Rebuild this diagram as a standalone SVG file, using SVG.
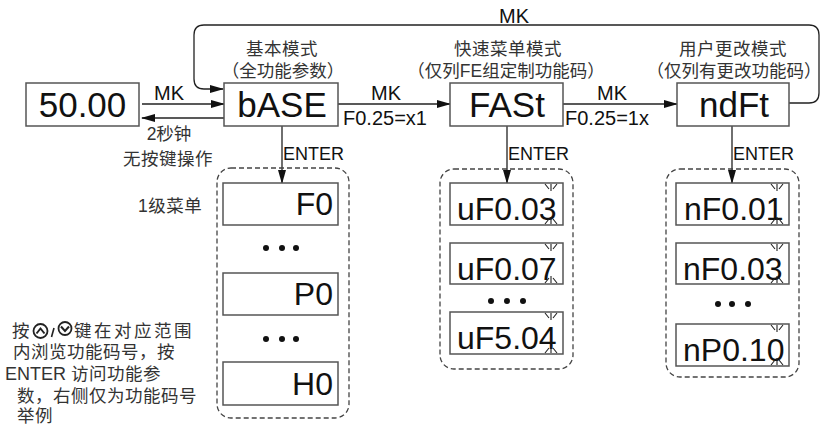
<svg xmlns="http://www.w3.org/2000/svg" width="820" height="426" viewBox="0 0 820 426">
<style>
.box{fill:#fff;stroke:#555;stroke-width:1.5}
.dash{fill:none;stroke:#444;stroke-width:1.3;stroke-dasharray:5 3}
.big{font-family:"Liberation Sans",Arial,sans-serif;font-size:35px;fill:#111}
.mid{font-family:"Liberation Sans",Arial,sans-serif;font-size:32px;fill:#111}
.lbl{font-family:"Liberation Sans",Arial,sans-serif;font-size:20px;fill:#111}
.ent{font-family:"Liberation Sans",Arial,sans-serif;font-size:18px;fill:#111}
.cn{font-family:"Liberation Sans","Noto Sans CJK SC",sans-serif;font-size:17.5px;fill:#333}
.ln{fill:none;stroke:#222;stroke-width:1.3}
.bl{fill:none;stroke:#222;stroke-width:1.1}
.dot{fill:#111}
</style>
<defs>
<marker id="ah" markerWidth="14" markerHeight="10" refX="13" refY="5" orient="auto" markerUnits="userSpaceOnUse">
<path d="M0,1 L14,5 L0,9 Z" fill="#111"/>
</marker>
</defs>

<g id="connectors">
<path class="ln" d="M789,103 H809 Q819,103 819,93 V35 Q819,25 809,25 H204 Q194,25 194,35 V79 Q194,89 204,89 H223" marker-end="url(#ah)"/>
<line class="ln" x1="142" y1="104" x2="224" y2="104" marker-end="url(#ah)"/>
<line class="ln" x1="224" y1="118" x2="142" y2="118" marker-end="url(#ah)"/>
<line class="ln" x1="338" y1="104" x2="450" y2="104" marker-end="url(#ah)"/>
<line class="ln" x1="563" y1="104" x2="677" y2="104" marker-end="url(#ah)"/>
<line class="ln" x1="282" y1="126" x2="282" y2="183" marker-end="url(#ah)"/>
<line class="ln" x1="507" y1="126" x2="507" y2="183" marker-end="url(#ah)"/>
<line class="ln" x1="732" y1="126" x2="732" y2="183" marker-end="url(#ah)"/>
<text class="lbl" x="514" y="23" text-anchor="middle">MK</text>
<text class="lbl" x="169" y="100" text-anchor="middle">MK</text>
<text class="lbl" x="386" y="100" text-anchor="middle">MK</text>
<text class="lbl" x="612" y="100" text-anchor="middle">MK</text>
<text class="lbl" x="343" y="125" font-size="21">F0.25=x1</text>
<text class="lbl" x="565" y="125" font-size="21">F0.25=1x</text>
<text class="cn" x="169" y="140" text-anchor="middle">2秒钟</text>
<text class="cn" x="168" y="165" text-anchor="middle" letter-spacing="0.5">无按键操作</text>
<text class="ent" x="283" y="160">ENTER</text>
<text class="ent" x="508" y="160">ENTER</text>
<text class="ent" x="733" y="160">ENTER</text>
</g>

<g id="display">
<rect class="box" x="26" y="83" width="113" height="43"/>
<text class="big" x="82.5" y="117" text-anchor="middle">50.00</text>
</g>

<g id="base">
<rect class="box" x="224" y="83" width="114" height="43"/>
<text class="big" x="282" y="117" text-anchor="middle">bASE</text>
<text class="cn" x="282" y="55" text-anchor="middle" letter-spacing="0.5">基本模式</text>
<text class="cn" x="283" y="77" text-anchor="middle">（全功能参数）</text>
</g>

<g id="fast">
<rect class="box" x="450" y="83" width="113" height="43"/>
<text class="big" x="507" y="117" text-anchor="middle">FASt</text>
<text class="cn" x="508" y="55" text-anchor="middle" letter-spacing="0.5">快速菜单模式</text>
<text class="cn" x="506" y="77" text-anchor="middle">（仅列FE组定制功能码）</text>
</g>

<g id="ndft">
<rect class="box" x="677" y="83" width="112" height="43"/>
<text class="big" x="734" y="117" text-anchor="middle">ndFt</text>
<text class="cn" x="733" y="55" text-anchor="middle" letter-spacing="0.5">用户更改模式</text>
<text class="cn" x="734" y="77" text-anchor="middle">（仅列有更改功能码）</text>
</g>

<g id="base-menu">
<rect class="dash" x="217" y="168" width="132" height="250" rx="14"/>
<rect class="box" x="223" y="183" width="115" height="42"/>
<text class="mid" x="333" y="215" text-anchor="end" font-size="33">F0</text>
<circle class="dot" cx="266" cy="248" r="3"/>
<circle class="dot" cx="282" cy="248" r="3"/>
<circle class="dot" cx="296" cy="248" r="3"/>
<rect class="box" x="223" y="273" width="115" height="42"/>
<text class="mid" x="333" y="305" text-anchor="end" font-size="33">P0</text>
<circle class="dot" cx="266" cy="339" r="3"/>
<circle class="dot" cx="282" cy="339" r="3"/>
<circle class="dot" cx="296" cy="339" r="3"/>
<rect class="box" x="223" y="362" width="115" height="43"/>
<text class="mid" x="333" y="395" text-anchor="end" font-size="33">H0</text>
</g>

<g id="fast-menu">
<rect class="dash" x="440" y="169" width="133" height="200" rx="14"/>
<rect class="box" x="450" y="183" width="113" height="42"/>
<text class="mid" x="457" y="220">uF0.03</text>
<path class="bl" d="M551,184V191M545,184L549,189M557,184L553,189M551,224V217M545,224L549,219M557,224L553,219"/>
<rect class="box" x="450" y="243" width="113" height="41"/>
<text class="mid" x="457" y="280">uF0.07</text>
<path class="bl" d="M551,244V251M545,244L549,249M557,244L553,249M551,283V276M545,283L549,278M557,283L553,278"/>
<circle class="dot" cx="491" cy="301" r="3"/>
<circle class="dot" cx="507" cy="301" r="3"/>
<circle class="dot" cx="523" cy="301" r="3"/>
<rect class="box" x="450" y="312" width="113" height="42"/>
<text class="mid" x="457" y="349">uF5.04</text>
<path class="bl" d="M551,313V320M545,313L549,318M557,313L553,318M551,353V346M545,353L549,348M557,353L553,348"/>
</g>

<g id="ndft-menu">
<rect class="dash" x="666" y="169" width="133" height="208" rx="14"/>
<rect class="box" x="676" y="183" width="113" height="42"/>
<text class="mid" x="684" y="220">nF0.01</text>
<path class="bl" d="M777,184V191M771,184L775,189M783,184L779,189M777,224V217M771,224L775,219M783,224L779,219"/>
<rect class="box" x="676" y="243" width="113" height="41"/>
<text class="mid" x="683" y="280">nF0.03</text>
<path class="bl" d="M777,244V251M771,244L775,249M783,244L779,249M777,283V276M771,283L775,278M783,283L779,278"/>
<circle class="dot" cx="718" cy="304" r="3"/>
<circle class="dot" cx="732" cy="304" r="3"/>
<circle class="dot" cx="748" cy="304" r="3"/>
<rect class="box" x="676" y="324" width="113" height="42"/>
<text class="mid" x="683" y="361">nP0.10</text>
<path class="bl" d="M777,325V332M771,325L775,330M783,325L779,330M777,365V358M771,365L775,360M783,365L779,360"/>
</g>

<g id="notes">
<text class="cn" x="138" y="212" letter-spacing="0.5">1级菜单</text>
<text class="cn" x="12" y="337">按</text>
<circle cx="40.5" cy="331" r="7" fill="none" stroke="#222" stroke-width="1.8"/>
<polyline points="36.5,333.5 40.5,328.5 44.5,333.5" fill="none" stroke="#222" stroke-width="2"/>
<line x1="54" y1="328" x2="51.5" y2="337" stroke="#222" stroke-width="1.6"/>
<circle cx="65" cy="328.5" r="6.5" fill="none" stroke="#222" stroke-width="1.8"/>
<polyline points="61,326.5 65,331 69,326.5" fill="none" stroke="#222" stroke-width="2"/>
<text class="cn" x="74" y="337" letter-spacing="2.5">键在对应范围</text>
<text class="cn" x="13" y="358" letter-spacing="0.5">内浏览功能码号，按</text>
<text class="cn" x="5" y="380"><tspan font-family="Liberation Sans,Arial,sans-serif" font-size="18">ENTER</tspan> <tspan letter-spacing="0.5">访问功能参</tspan></text>
<text class="cn" x="17" y="402" letter-spacing="0.5">数，右侧仅为功能码号</text>
<text class="cn" x="17" y="422" letter-spacing="0.5">举例</text>
</g>
</svg>
